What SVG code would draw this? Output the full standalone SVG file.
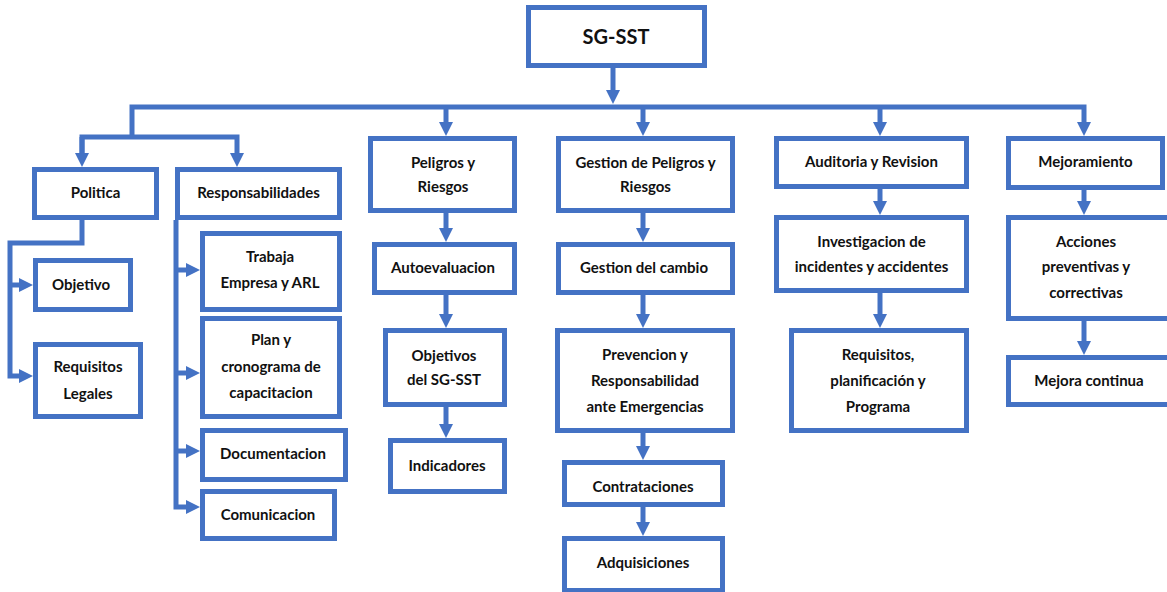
<svg xmlns="http://www.w3.org/2000/svg" width="1167" height="592" viewBox="0 0 1167 592">
<style>
.box{fill:#fff;stroke:#4472C4;stroke-width:5}
.c{fill:none;stroke:#4472C4;stroke-width:5;stroke-linejoin:miter;stroke-linecap:butt}
text{font-family:Lato,"Open Sans","Liberation Sans",sans-serif;font-weight:700;font-size:15px;fill:#111;text-anchor:middle}
.big{font-size:20px}
</style>
<defs>
<marker id="ah" viewBox="0 0 14 14" markerWidth="14" markerHeight="14" markerUnits="userSpaceOnUse" refX="6" refY="7" orient="auto">
<path d="M0,0 L14,7 L0,14 z" fill="#4472C4"/>
</marker>
</defs>
<rect width="1167" height="592" fill="#fff"/>
<g id="connectors">
<polyline class="c" points="132,137 132,107 1084,107 1084,128" marker-end="url(#ah)"/>
<polyline class="c" points="82,159 82,137 237,137 237,159" marker-end="url(#ah)"/>
<line class="c" x1="82" y1="137" x2="82" y2="159" marker-end="url(#ah)"/>
<line class="c" x1="613" y1="68" x2="613" y2="96" marker-end="url(#ah)"/>
<line class="c" x1="446" y1="107" x2="446" y2="128" marker-end="url(#ah)"/>
<line class="c" x1="643" y1="107" x2="643" y2="128" marker-end="url(#ah)"/>
<line class="c" x1="880" y1="107" x2="880" y2="128" marker-end="url(#ah)"/>
<line class="c" x1="446" y1="213" x2="446" y2="234" marker-end="url(#ah)"/>
<line class="c" x1="446" y1="295" x2="446" y2="320" marker-end="url(#ah)"/>
<line class="c" x1="446" y1="407" x2="446" y2="430" marker-end="url(#ah)"/>
<line class="c" x1="643" y1="213" x2="643" y2="234" marker-end="url(#ah)"/>
<line class="c" x1="643" y1="295" x2="643" y2="320" marker-end="url(#ah)"/>
<line class="c" x1="643" y1="433" x2="643" y2="452" marker-end="url(#ah)"/>
<line class="c" x1="643" y1="507" x2="643" y2="528" marker-end="url(#ah)"/>
<line class="c" x1="880" y1="189" x2="880" y2="207" marker-end="url(#ah)"/>
<line class="c" x1="880" y1="293" x2="880" y2="320" marker-end="url(#ah)"/>
<line class="c" x1="1084" y1="190" x2="1084" y2="207" marker-end="url(#ah)"/>
<line class="c" x1="1084" y1="321" x2="1084" y2="347" marker-end="url(#ah)"/>
<polyline class="c" points="82,220 82,243 10,243 10,376 25,376" marker-end="url(#ah)"/>
<line class="c" x1="10" y1="285" x2="25" y2="285" marker-end="url(#ah)"/>
<polyline class="c" points="176,220 176,507 192,507" marker-end="url(#ah)"/>
<line class="c" x1="176" y1="270" x2="192" y2="270" marker-end="url(#ah)"/>
<line class="c" x1="176" y1="373" x2="192" y2="373" marker-end="url(#ah)"/>
<line class="c" x1="176" y1="451" x2="192" y2="451" marker-end="url(#ah)"/>
</g>
<g id="n-root"><rect class="box" x="528.5" y="7.5" width="176" height="58"/><text class="big" x="616" y="44">SG-SST</text></g>
<g id="n-politica"><rect class="box" x="34.5" y="169.5" width="122" height="48"/><text x="95.5" y="198">Politica</text></g>
<g id="n-responsabilidades"><rect class="box" x="177.5" y="169.5" width="162" height="48"/><text x="258.5" y="198">Responsabilidades</text></g>
<g id="n-peligros"><rect class="box" x="370.5" y="138.5" width="144" height="72"/><text x="443" y="168">Peligros y</text><text x="443" y="192">Riesgos</text></g>
<g id="n-gestion-peligros"><rect class="box" x="558.5" y="138.5" width="174" height="72"/><text x="645.5" y="168">Gestion de Peligros y</text><text x="645.5" y="192">Riesgos</text></g>
<g id="n-auditoria"><rect class="box" x="776.5" y="138.5" width="190" height="48"/><text x="871.5" y="167">Auditoria y Revision</text></g>
<g id="n-mejoramiento"><rect class="box" x="1008.5" y="138.5" width="154" height="49"/><text x="1085.5" y="167">Mejoramiento</text></g>
<g id="n-autoevaluacion"><rect class="box" x="374.5" y="244.5" width="140" height="48"/><text x="443" y="273">Autoevaluacion</text></g>
<g id="n-gestion-cambio"><rect class="box" x="558.5" y="244.5" width="174" height="48"/><text x="644" y="273">Gestion del cambio</text></g>
<g id="n-investigacion"><rect class="box" x="776.5" y="217.5" width="190" height="73"/><text x="871.5" y="247">Investigacion de</text><text x="871.5" y="272">incidentes y accidentes</text></g>
<g id="n-acciones"><rect class="box" x="1008.5" y="217.5" width="162" height="101"/><text x="1086" y="247">Acciones</text><text x="1086" y="272">preventivas y</text><text x="1086" y="298">correctivas</text></g>
<g id="n-objetivos"><rect class="box" x="385.5" y="330.5" width="119" height="74"/><text x="444" y="361">Objetivos</text><text x="444" y="385">del SG-SST</text></g>
<g id="n-prevencion"><rect class="box" x="557.5" y="330.5" width="175" height="100"/><text x="645" y="360">Prevencion y</text><text x="645" y="386">Responsabilidad</text><text x="645" y="412">ante Emergencias</text></g>
<g id="n-requisitos-plan"><rect class="box" x="791.5" y="330.5" width="175" height="100"/><text x="878" y="360">Requisitos,</text><text x="878" y="386">planificación y</text><text x="878" y="412">Programa</text></g>
<g id="n-mejora"><rect class="box" x="1008.5" y="357.5" width="162" height="47"/><text x="1089" y="386">Mejora continua</text></g>
<g id="n-indicadores"><rect class="box" x="390.5" y="440.5" width="114" height="51"/><text x="447" y="471">Indicadores</text></g>
<g id="n-contrataciones"><rect class="box" x="564.5" y="462.5" width="158" height="42"/><text x="643" y="492">Contrataciones</text></g>
<g id="n-adquisiciones"><rect class="box" x="564.5" y="538.5" width="158" height="52"/><text x="643" y="568">Adquisiciones</text></g>
<g id="n-objetivo"><rect class="box" x="35.5" y="260.5" width="95" height="49"/><text x="81" y="290">Objetivo</text></g>
<g id="n-requisitos-legales"><rect class="box" x="35.5" y="344.5" width="105" height="72"/><text x="88" y="372">Requisitos</text><text x="88" y="399">Legales</text></g>
<g id="n-trabaja"><rect class="box" x="202.5" y="233.5" width="137" height="76"/><text x="270" y="262">Trabaja</text><text x="270" y="288">Empresa y ARL</text></g>
<g id="n-plan"><rect class="box" x="202.5" y="318.5" width="137" height="98"/><text x="271" y="345">Plan y</text><text x="271" y="372">cronograma de</text><text x="271" y="398">capacitacion</text></g>
<g id="n-documentacion"><rect class="box" x="202.5" y="430.5" width="143" height="49"/><text x="273" y="459">Documentacion</text></g>
<g id="n-comunicacion"><rect class="box" x="202.5" y="491.5" width="132" height="47"/><text x="268" y="520">Comunicacion</text></g>
</svg>
